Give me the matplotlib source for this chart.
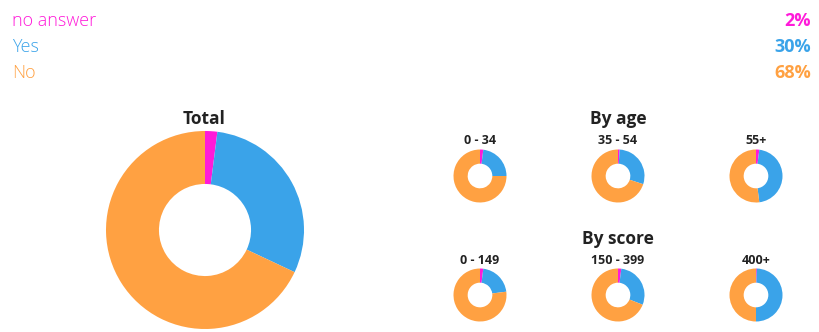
import matplotlib
matplotlib.use("Agg")
import matplotlib.pyplot as plt

plt.rcParams['font.family'] = ['Open Sans', 'DejaVu Sans']

# answers in order drawn (clockwise from top)
answers = ["no answer", "Yes", "No"]
colors = ["#ff1ad9", "#3aa3e9", "#ffa142"]
total = [2, 30, 68]

age_groups = ["0 - 34", "35 - 54", "55+"]
age_vals = [[2, 23, 75], [1, 29, 70], [2, 46, 52]]

score_groups = ["0 - 149", "150 - 399", "400+"]
score_vals = [[2, 21, 77], [2, 29, 69], [0.5, 49.5, 50]]

W, H = 820, 332
fig = plt.figure(figsize=(W / 100, H / 100), dpi=100)


def donut(cx, cy, r, vals, hole=0.465, cut=0):
    # cx, cy, r in pixels, y from top; cut = pixels clipped off the bottom
    ax = fig.add_axes([(cx - r) / W, (H - cy - r + cut) / H,
                       2 * r / W, (2 * r - cut) / H])
    ax.pie(vals, colors=colors, startangle=90, counterclock=False,
           wedgeprops=dict(width=1 - hole, linewidth=0))
    ax.set_aspect('auto')
    ax.set_xlim(-1, 1)
    ax.set_ylim(-1 + cut / r, 1)
    ax.axis('off')
    return ax


def txt(x, y, s, **kw):
    fig.text(x / W, 1 - y / H, s, va='center', **kw)


# legend rows
for i, (name, c, v) in enumerate(zip(answers, colors, total)):
    y = 20.5 + i * 26
    txt(12, y, name, color=c, fontsize=13, fontweight='light', ha='left')
    txt(811, y, f"{v}%", color=c, fontsize=13, fontweight='bold', ha='right')

# total donut
txt(204, 119, "Total", fontsize=12.5, fontweight='bold', ha='center', color='#222222')
donut(205, 230, 99, total, cut=6)

# small donuts
xs = [480, 618, 756]
txt(618, 119, "By age", fontsize=12.5, fontweight='bold', ha='center', color='#222222')
for x, lab, v in zip(xs, age_groups, age_vals):
    txt(x, 141, lab, fontsize=9, fontweight='bold', ha='center', color='#222222')
    donut(x, 176, 26.5, v)

txt(618, 239, "By score", fontsize=12.5, fontweight='bold', ha='center', color='#222222')
for x, lab, v in zip(xs, score_groups, score_vals):
    txt(x, 260, lab, fontsize=9, fontweight='bold', ha='center', color='#222222')
    donut(x, 295, 26.5, v)

fig.savefig("out.png", dpi=100)
